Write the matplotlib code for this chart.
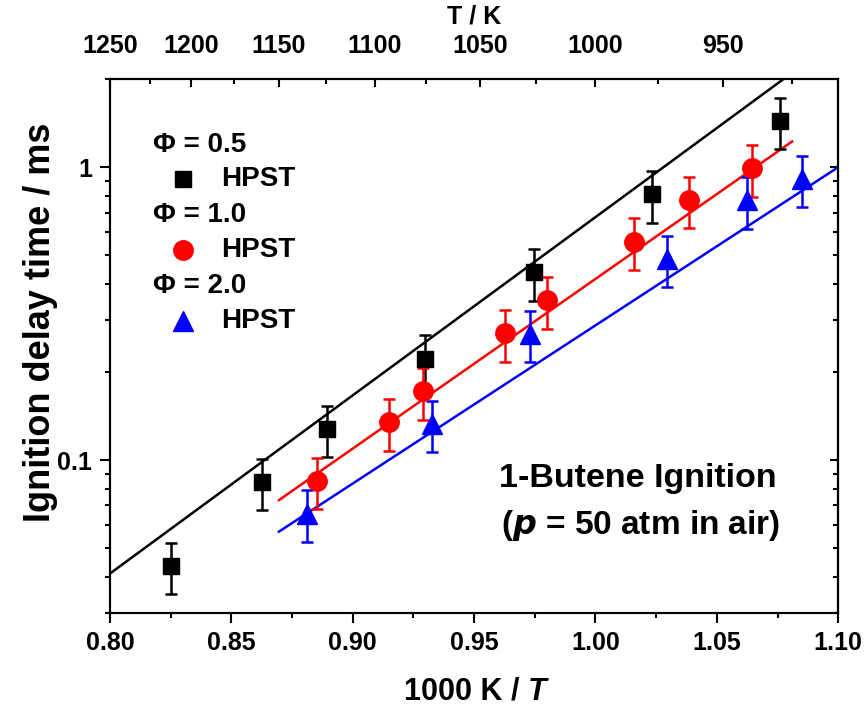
import numpy as np
import matplotlib
matplotlib.use("Agg")
import matplotlib.pyplot as plt
from matplotlib.ticker import LogLocator, NullFormatter, FixedLocator, FixedFormatter, MultipleLocator

plt.rcParams['font.family'] = ['Liberation Sans', 'DejaVu Sans']
plt.rcParams['font.weight'] = 'bold'

# measured ignition delay times (1000 K / T, ms)
phi05_x = [0.825, 0.8627, 0.8894, 0.9298, 0.9747, 1.0231, 1.076]
phi05_y = [0.0436, 0.0843, 0.1276, 0.222, 0.437, 0.807, 1.44]
phi10_x = [0.8851, 0.9148, 0.929, 0.9627, 0.980, 1.0157, 1.0386, 1.0643]
phi10_y = [0.085, 0.1344, 0.172, 0.271, 0.351, 0.557, 0.774, 0.99]
phi20_x = [0.881, 0.9325, 0.973, 1.0296, 1.0625, 1.0849]
phi20_y = [0.0657, 0.133, 0.27, 0.487, 0.77, 0.913]
err_frac = 0.2

# fit line endpoints
fit05_x = [0.80, 1.0775]
fit05_y = [0.041, 2.0]
fit10_x = [0.8696, 1.081]
fit10_y = [0.073, 1.224]
fit20_x = [0.8696, 1.10]
fit20_y = [0.057, 1.0]

top_T = [1250, 1200, 1150, 1100, 1050, 1000, 950]
top_T_minor = [1225, 1175, 1125, 1075, 1025, 975, 925]

series = [
    (phi05_x, phi05_y, fit05_x, fit05_y, 'black', 's', 11, 'Φ = 0.5'),
    (phi10_x, phi10_y, fit10_x, fit10_y, 'red', 'o', 14, 'Φ = 1.0'),
    (phi20_x, phi20_y, fit20_x, fit20_y, 'blue', '^', 14, 'Φ = 2.0'),
]

fig = plt.figure(figsize=(8.64, 7.09), dpi=100)
ax = fig.add_axes([0.1273, 0.135, 0.8429, 0.7536])

for x, y, fx, fy, c, m, ms, lab in series:
    ax.plot(fx, fy, color=c, lw=1.8, zorder=2)
    y = np.array(y)
    ax.errorbar(x, y, yerr=err_frac * y, fmt=m, color=c, ms=ms,
                elinewidth=1.8, capsize=4.5, capthick=1.8, zorder=3)

ax.set_xlim(0.80, 1.10)
ax.set_yscale('log')
ax.set_ylim(0.03, 2.0)

ax.xaxis.set_major_locator(MultipleLocator(0.05))
ax.xaxis.set_minor_locator(MultipleLocator(0.025))
ax.xaxis.set_major_formatter(plt.FormatStrFormatter('%.2f'))
ax.yaxis.set_major_locator(FixedLocator([0.1, 1]))
ax.yaxis.set_major_formatter(FixedFormatter(['0.1', '1']))
ax.yaxis.set_minor_locator(LogLocator(base=10, subs=np.arange(2, 10)))
ax.yaxis.set_minor_formatter(NullFormatter())

for s in ax.spines.values():
    s.set_linewidth(1.5)
ax.tick_params(axis='both', which='major', labelsize=18, width=1.5, length=7, direction='out', pad=6)
ax.tick_params(axis='both', which='minor', width=1.5, length=3.5, direction='out')

# right side ticks pointing inward
axr = ax.secondary_yaxis('right')
axr.yaxis.set_major_locator(FixedLocator([0.1, 1]))
axr.yaxis.set_minor_locator(LogLocator(base=10, subs=np.arange(2, 10)))
axr.yaxis.set_major_formatter(NullFormatter())
axr.yaxis.set_minor_formatter(NullFormatter())
axr.tick_params(axis='y', which='major', direction='in', length=6, width=1.5)
axr.tick_params(axis='y', which='minor', direction='in', length=3.5, width=1.5)
axr.spines['right'].set_linewidth(1.5)

for lbl in ax.get_xticklabels() + ax.get_yticklabels():
    lbl.set_fontweight('bold')

fig.text(0.611, 0.0127, '1000 K / ', fontsize=22, fontweight='bold', ha='right', va='baseline')
fig.text(0.611, 0.0127, 'T', fontsize=22, fontweight='bold', style='italic', ha='left', va='baseline')
ax.set_ylabel('Ignition delay time / ms', fontsize=26, fontweight='bold')
ax.yaxis.set_label_coords(-0.072, 0.545)

# top temperature axis
axt = ax.twiny()
axt.set_xlim(ax.get_xlim())
axt.xaxis.set_major_locator(FixedLocator([1000.0 / t for t in top_T]))
axt.xaxis.set_major_formatter(FixedFormatter([str(t) for t in top_T]))
axt.xaxis.set_minor_locator(FixedLocator([1000.0 / t for t in top_T_minor]))
axt.tick_params(axis='x', which='major', direction='in', length=6, width=1.5, labelsize=18, pad=15)
axt.tick_params(axis='x', which='minor', direction='in', length=3.5, width=1.5)
for lbl in axt.get_xticklabels():
    lbl.set_fontweight('bold')
axt.set_xlabel('T / K', fontsize=18, fontweight='bold', labelpad=8)
for s in axt.spines.values():
    s.set_linewidth(1.5)

# legend block
for i, (x, y, fx, fy, c, m, ms, lab) in enumerate(series):
    ty = 0.8765 - i * 0.132
    ax.text(0.059, ty, lab, transform=ax.transAxes, fontsize=20, fontweight='bold', va='center', ha='left')
    ax.plot([0.1003], [ty - 0.0646], marker=m, color=c, ms=ms, transform=ax.transAxes, clip_on=False)
    ax.text(0.153, ty - 0.0646, 'HPST', transform=ax.transAxes, fontsize=20, fontweight='bold', va='center', ha='left')

ax.text(0.916, 0.253, '1-Butene Ignition', transform=ax.transAxes, fontsize=24.5, fontweight='bold', ha='right', va='center')
ax.text(0.92, 0.165, '($\\boldsymbol{p}$ = 50 atm in air)', transform=ax.transAxes, fontsize=24, fontweight='bold', ha='right', va='center')

fig.savefig('out.png', dpi=100)
